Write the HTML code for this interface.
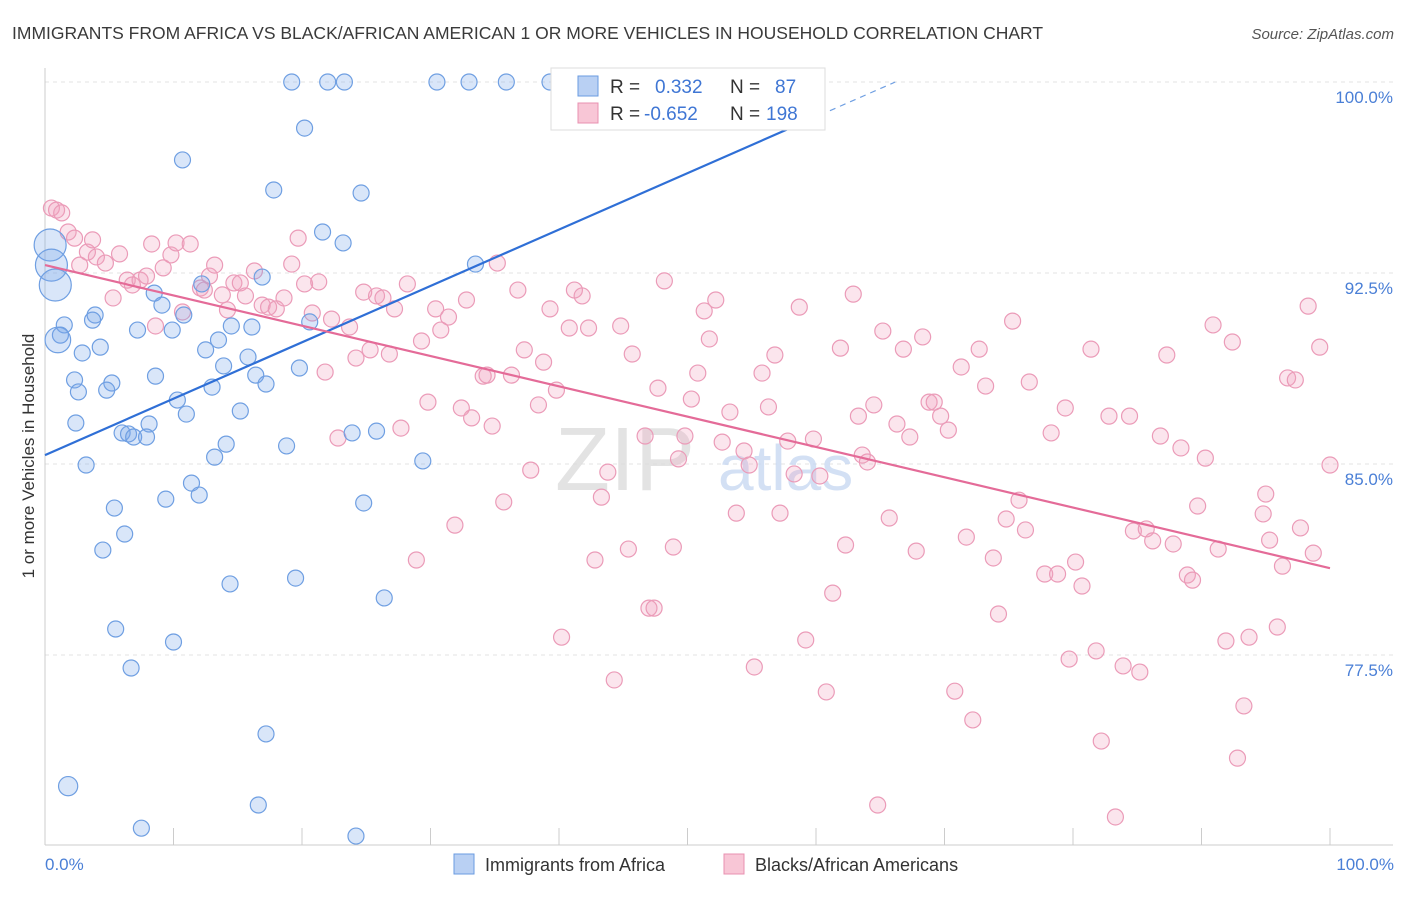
<!DOCTYPE html>
<html><head><meta charset="utf-8"><style>
body{margin:0;background:#fff;font-family:"Liberation Sans",sans-serif;}
svg text{font-family:"Liberation Sans",sans-serif;}
</style></head><body>
<svg id="chart" width="1406" height="892" viewBox="0 0 1406 892" xmlns="http://www.w3.org/2000/svg">
<text x="12" y="39" font-size="17.5" fill="#3a3a3a">IMMIGRANTS FROM AFRICA VS BLACK/AFRICAN AMERICAN 1 OR MORE VEHICLES IN HOUSEHOLD CORRELATION CHART</text>
<text x="1394" y="39" font-size="15" fill="#555" font-style="italic" text-anchor="end">Source: ZipAtlas.com</text>
<g id="grid"></g>
<g>
<text x="555" y="490" font-size="90" fill="#ddd" font-family="Liberation Serif" opacity="0.8">ZIP</text>
<text x="718" y="490" font-size="64" fill="#c9d9f2" opacity="0.8">atlas</text>
</g>
<g id="axes"></g>
<g id="pinkpts"></g>
<g id="bluepts"></g>
<g id="lines"></g>
<text transform="translate(34,456) rotate(-90)" font-size="17" fill="#333" text-anchor="middle">1 or more Vehicles in Household</text>
<text x="45" y="870" font-size="17" fill="#4a7fd6">0.0%</text>
<text x="1394" y="870" font-size="17" fill="#4a7fd6" text-anchor="end">100.0%</text>
<g>
<rect x="551" y="68" width="274" height="62" fill="#fff" stroke="#ddd"/>
<rect x="578" y="76" width="20" height="20" fill="#b9d0f3" stroke="#6a9be0"/>
<rect x="578" y="103" width="20" height="20" fill="#f8c6d6" stroke="#e890b0"/>
<text x="610" y="93" font-size="19" fill="#333">R =</text>
<text x="655" y="93" font-size="19" fill="#3f76d4">0.332</text>
<text x="730" y="93" font-size="19" fill="#333">N =</text>
<text x="775" y="93" font-size="19" fill="#3f76d4">87</text>
<text x="610" y="120" font-size="19" fill="#333">R =</text>
<text x="644" y="120" font-size="19" fill="#3f76d4">-0.652</text>
<text x="730" y="120" font-size="19" fill="#333">N =</text>
<text x="766" y="120" font-size="19" fill="#3f76d4">198</text>
</g>
<g>
<rect x="454" y="854" width="20" height="20" fill="#b9d0f3" stroke="#6a9be0"/>
<text x="485" y="871" font-size="18" fill="#333">Immigrants from Africa</text>
</g>
<g>
<rect x="724" y="854" width="20" height="20" fill="#f8c6d6" stroke="#e890b0"/>
<text x="755" y="871" font-size="18" fill="#333">Blacks/African Americans</text>
</g>
</svg>
<script>
const yTicks=[100,92.5,85,77.5];
const yTickLabels=["100.0%","92.5%","85.0%","77.5%"];
const xTicks=[0,10,20,30,40,50,60,70,80,90,100];
const blueX=[19.2,22.0,23.3,30.5,33.0,35.9,39.3,54.7,20.2,10.7,17.8,24.6,21.6,23.2,0.4,0.5,0.8,33.5,16.9,8.5,9.1,12.2,3.9,1.5,3.7,1.2,1.0,10.8,9.9,7.2,14.5,16.1,20.6,4.3,2.9,12.5,13.5,15.8,13.9,19.8,8.6,2.3,5.2,4.8,2.6,16.4,17.2,13.0,10.3,11.0,15.2,2.4,6.0,8.1,6.5,6.9,7.9,14.1,23.9,25.8,13.2,18.8,3.2,29.4,11.4,9.4,12.0,24.8,5.4,6.2,4.5,19.5,14.4,26.4,5.5,10.0,6.7,17.2,1.8,16.6,7.5,24.2];
const blueY=[100,100,100,100,100,100,100,100,98.19,96.94,95.76,95.64,94.11,93.68,93.60,92.81,92.03,92.85,92.34,91.71,91.24,92.07,90.85,90.46,90.65,90.06,89.87,90.85,90.26,90.26,90.42,90.38,90.58,89.59,89.36,89.48,89.87,89.20,88.85,88.77,88.45,88.30,88.18,87.90,87.83,88.49,88.14,88.02,87.51,86.96,87.08,86.61,86.22,86.57,86.18,86.06,86.06,85.78,86.22,86.29,85.27,85.71,84.96,85.12,84.25,83.62,83.78,83.47,83.27,82.25,81.62,80.52,80.29,79.74,78.52,78.01,76.99,74.40,72.35,71.61,70.70,70.39];
const blueSize=[1,1,1,1,1,1,1,1,1,1,1,1,1,1,2,2,2,1,1,1,1,1,1,1,1,1,1.6,1,1,1,1,1,1,1,1,1,1,1,1,1,1,1,1,1,1,1,1,1,1,1,1,1,1,1,1,1,1,1,1,1,1,1,1,1,1,1,1,1,1,1,1,1,1,1,1,1,1,1,1.2,1,1,1];
const pinkX=[0.5,0.9,1.3,1.8,2.3,3.3,3.7,2.7,4.0,4.7,5.3,5.8,6.4,6.8,7.4,7.9,8.3,8.6,9.2,9.8,10.2,10.7,11.3,12.1,12.4,12.8,13.2,13.8,14.2,14.7,15.2,15.6,16.3,16.9,17.4,18.0,18.6,19.2,19.7,20.2,20.8,21.3,21.8,22.3,22.8,23.7,24.2,24.8,25.3,25.8,26.3,26.8,27.2,27.7,28.2,28.9,29.3,29.8,30.4,30.8,31.4,31.9,32.4,32.8,33.2,34.1,34.4,34.8,35.2,35.7,36.3,36.8,37.3,37.8,38.4,38.8,39.3,39.8,40.2,40.8,41.2,41.8,42.3,42.8,43.3,43.8,44.3,44.8,45.4,45.7,46.7,47.0,47.4,47.7,48.2,48.9,49.3,49.8,50.3,50.8,51.3,51.7,52.2,52.7,53.3,53.8,54.4,54.8,55.2,55.8,56.3,56.8,57.2,57.8,58.3,58.7,59.2,59.8,60.3,60.8,61.3,61.9,62.3,62.9,63.3,63.6,64.0,64.5,65.2,65.7,66.3,66.8,67.3,67.8,68.3,68.8,69.2,69.7,70.3,70.8,71.3,71.7,72.2,72.7,73.2,73.8,74.2,74.8,75.3,75.8,76.3,76.6,77.8,78.3,78.8,79.4,79.7,80.2,80.7,81.4,81.8,82.2,82.8,83.3,83.9,84.4,84.7,85.2,85.7,86.2,86.8,87.3,87.8,88.4,88.9,89.3,89.7,90.3,90.9,91.3,91.9,92.4,92.8,93.3,93.7,94.8,95.0,95.3,95.9,96.3,96.7,97.3,97.7,98.3,98.7,99.2,100.0,64.8];
const pinkY=[95.05,94.97,94.86,94.11,93.87,93.32,93.80,92.81,93.13,92.89,91.52,93.25,92.22,92.03,92.22,92.38,93.64,90.42,92.70,93.21,93.68,90.97,93.64,91.91,91.83,92.38,92.81,91.64,91.05,92.11,92.11,91.60,92.58,91.24,91.16,91.09,91.52,92.85,93.87,92.07,90.93,92.15,88.61,90.69,86.02,90.38,89.16,91.75,89.48,91.60,91.52,89.32,91.09,86.41,92.07,81.23,89.83,87.43,91.09,90.26,90.77,82.60,87.20,91.44,86.81,88.45,88.49,86.49,92.89,83.51,88.49,91.83,89.48,84.76,87.32,89.00,91.09,87.90,78.20,90.34,91.83,91.60,90.34,81.23,83.70,84.68,76.52,90.42,81.66,89.32,86.10,79.34,79.34,87.98,92.19,81.74,85.20,86.10,87.55,88.57,91.01,89.91,91.44,85.86,87.04,83.07,85.51,84.96,77.03,88.57,87.24,89.28,83.07,85.90,84.61,91.16,78.09,85.98,84.53,76.05,79.93,89.55,81.82,91.67,86.88,85.35,85.08,87.32,90.22,82.88,86.57,89.51,86.06,81.58,89.99,87.43,87.43,86.88,86.33,76.08,88.81,82.13,74.95,89.51,88.06,81.31,79.11,82.84,90.61,83.58,82.41,88.22,80.68,86.22,80.68,87.20,77.34,81.15,80.21,89.51,77.66,74.12,86.88,71.14,77.07,86.88,82.37,76.83,82.45,81.98,86.10,89.28,81.86,85.63,80.64,80.44,83.35,85.23,90.46,81.66,78.05,89.79,73.45,75.50,78.20,83.04,83.82,82.01,78.60,80.99,88.38,88.30,82.49,91.20,81.50,89.59,84.96,71.61];
const blueTrend=[85.35,0.2214];
const pinkTrend=[92.81,80.91];
const NS="http://www.w3.org/2000/svg";
const X0=45,X1=1330,YTOP=82,PX_PER=191/7.5;
function sx(v){return X0+(X1-X0)*v/100;}
function sy(v){return YTOP+(100-v)*PX_PER;}
function mk(tag,attrs,parent){const e=document.createElementNS(NS,tag);for(const k in attrs)e.setAttribute(k,attrs[k]);parent.appendChild(e);return e;}
const grid=document.getElementById('grid');
yTicks.forEach((t,i)=>{
 const l=mk('line',{x1:X0,x2:1393,y1:sy(t),y2:sy(t),stroke:'#e3e3e3','stroke-dasharray':'4,4'},grid);
 
 
 const tx=mk('text',{x:1393,y:sy(t)+21,'font-size':17,fill:'#4a7fd6','text-anchor':'end'},grid);
 tx.textContent=yTickLabels[i];
 
 
});
const axes=document.getElementById('axes');
const ax=mk('line',{x1:X0,x2:1393,y1:845,y2:845,stroke:'#ccc'},axes);


const ay=mk('line',{x1:X0,x2:X0,y1:68,y2:845,stroke:'#ccc'},axes);


xTicks.forEach(t=>{
 const l=mk('line',{x1:sx(t),x2:sx(t),y1:828,y2:845,stroke:'#ccc'},axes);
 
 
});
const pg=document.getElementById('pinkpts');
pinkX.forEach((x,i)=>{
 const c=mk('circle',{cx:sx(x),cy:sy(pinkY[i]),r:8,fill:'rgba(242,160,190,0.28)',stroke:'#eb9bb8','stroke-width':1.2},pg);
 
 
});
const bg=document.getElementById('bluepts');
blueX.forEach((x,i)=>{
 const c=mk('circle',{cx:sx(x),cy:sy(blueY[i]),r:8*blueSize[i],fill:'rgba(120,165,235,0.28)',stroke:'#6f9fe2','stroke-width':1.2},bg);
 
 
});
const lg=document.getElementById('lines');
const bEnd=60.3, bTop=(100-blueTrend[0])/blueTrend[1];
const bl=mk('line',{x1:sx(0),y1:sy(blueTrend[0]),x2:sx(bEnd),y2:sy(blueTrend[0]+blueTrend[1]*bEnd),stroke:'#2f6fd6','stroke-width':2.2},lg);


const bd=mk('line',{x1:sx(bEnd),y1:sy(blueTrend[0]+blueTrend[1]*bEnd),x2:sx(bTop),y2:sy(100),stroke:'#6f9fe2','stroke-width':1.2,'stroke-dasharray':'6,5'},lg);


const pl=mk('line',{x1:sx(0),y1:sy(pinkTrend[0]),x2:sx(100),y2:sy(pinkTrend[1]),stroke:'#e46b98','stroke-width':2.2},lg);


</script>
</body></html>
